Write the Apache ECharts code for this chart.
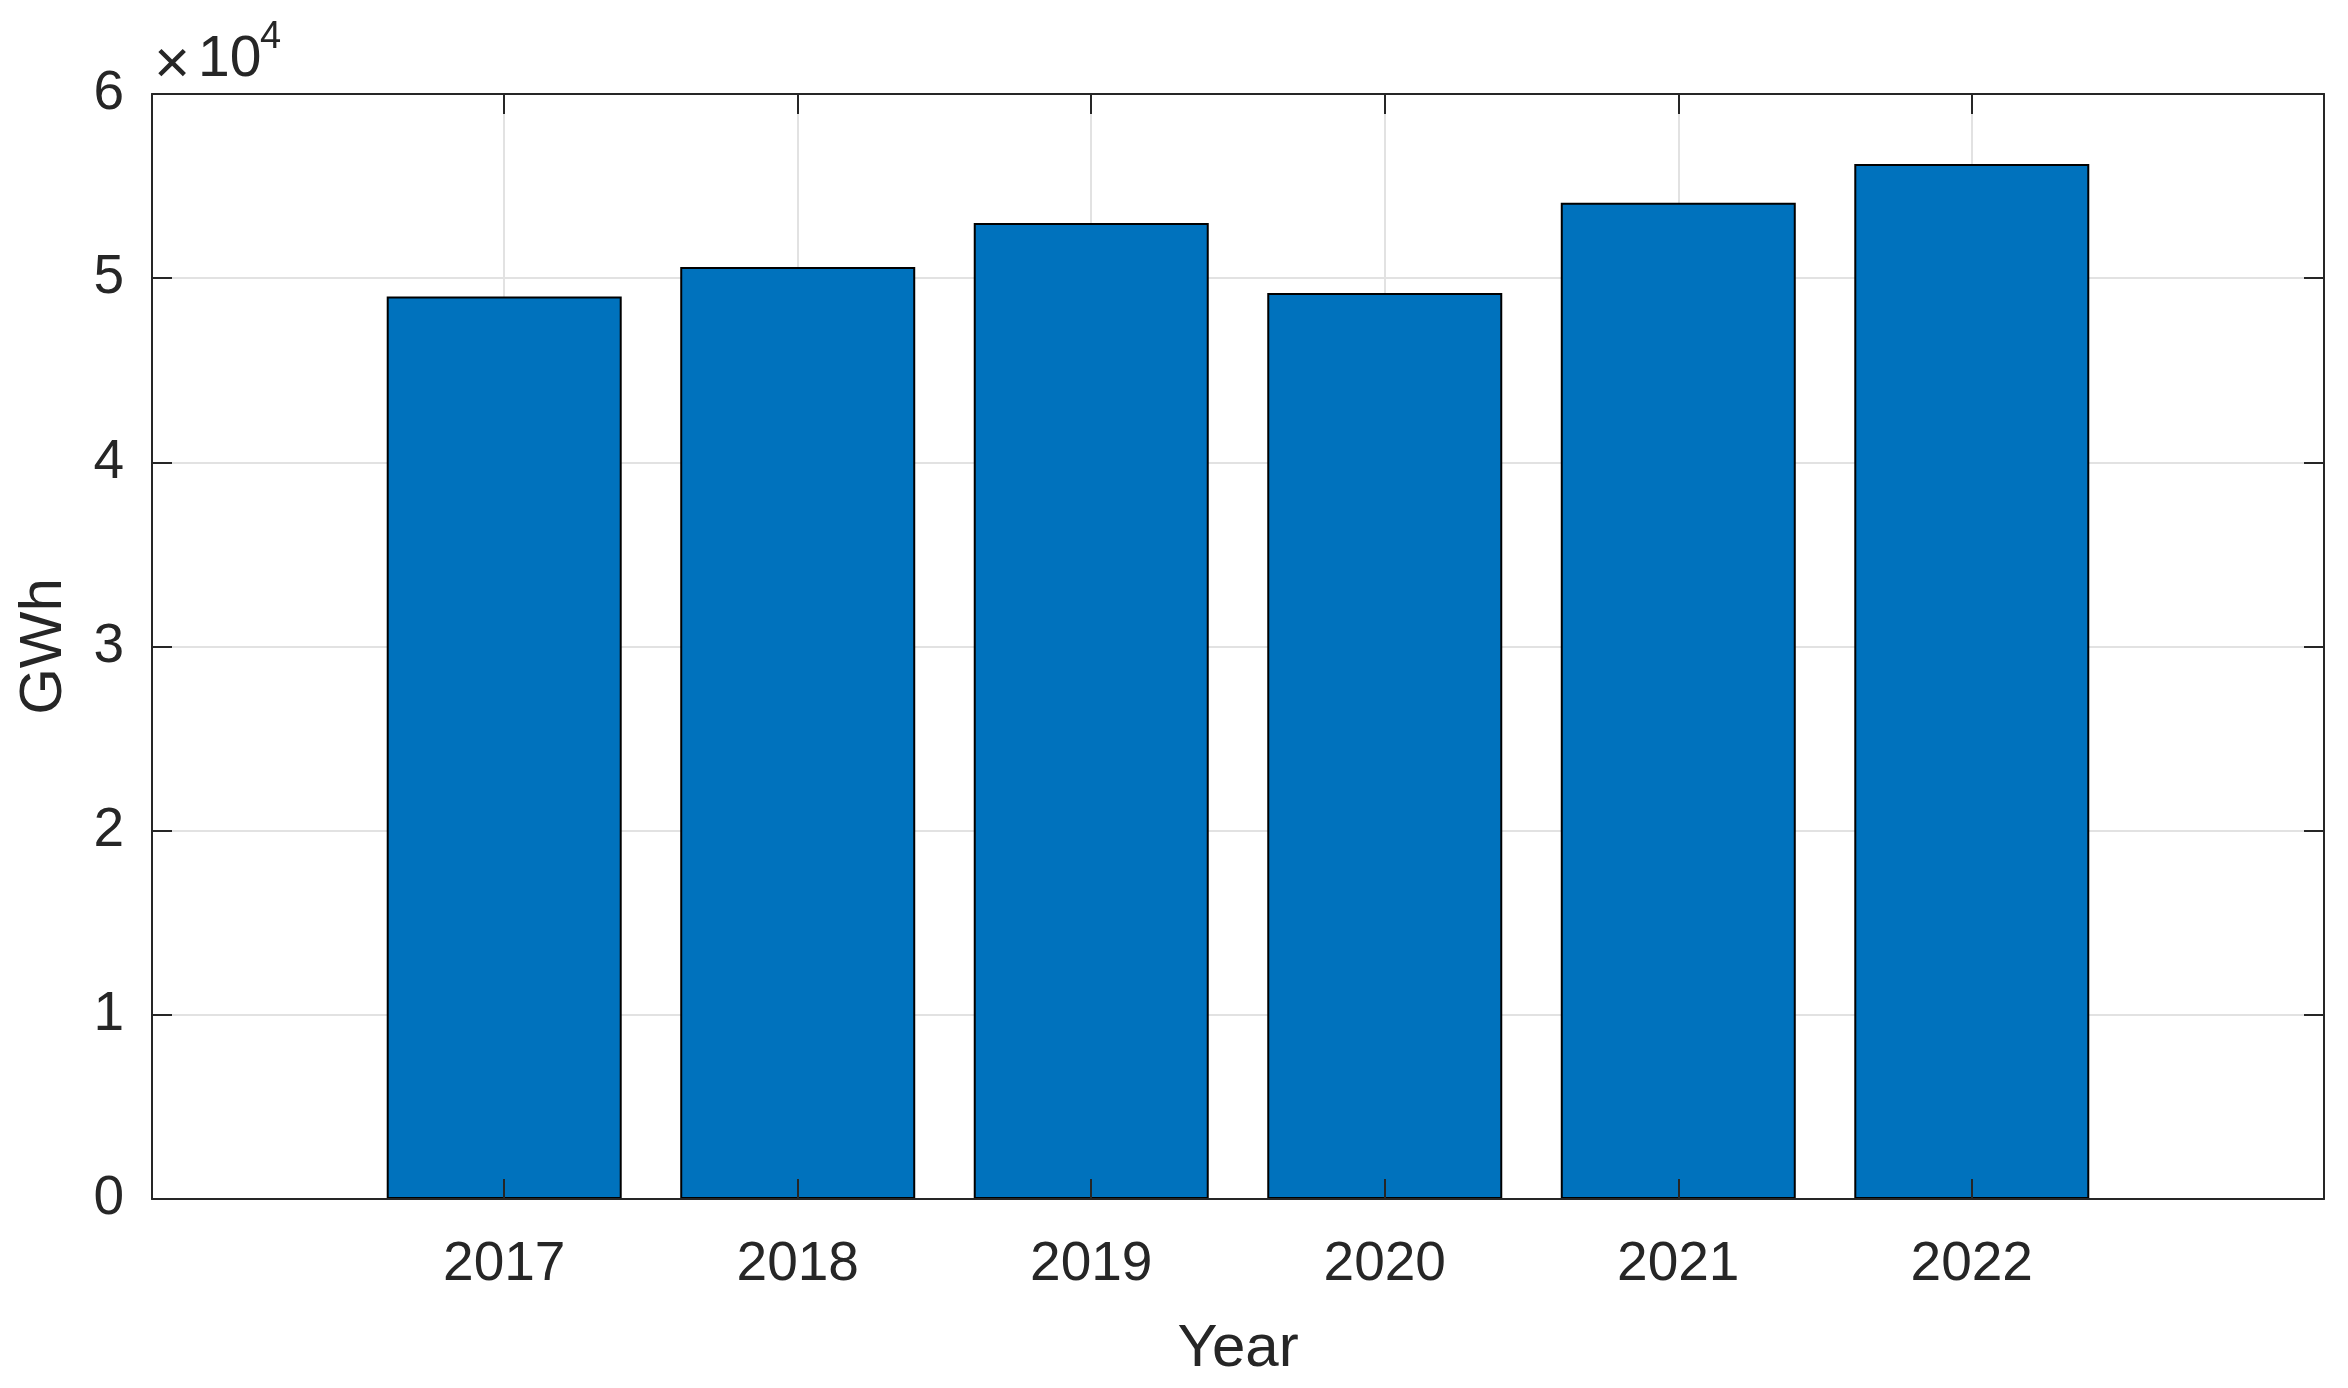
<!DOCTYPE html>
<html>
<head>
<meta charset="utf-8">
<script src="https://cdn.jsdelivr.net/npm/echarts@6/dist/echarts.min.js"></script>
<style>
html,body{margin:0;padding:0;background:#fff;}
#chart{width:2348px;height:1388px;}
</style>
</head>
<body>
<div id="chart"></div>
<script>
const years = [2017, 2018, 2019, 2020, 2021, 2022];
const gwh = [49000, 50600, 53000, 49200, 54100, 56200];
const yTicks = [0, 1, 2, 3, 4, 5, 6];
const yScale = 10000;
const xLabel = 'Year';
const yLabel = 'GWh';

const FONT = '"Liberation Sans", Arial, Helvetica, sans-serif';
const INK = '#262626';
const GRID = {left: 152, top: 94, width: 2172, height: 1105};
const XMIN = 2015.8, XMAX = 2023.2;
const YMIN = yTicks[0] * yScale, YMAX = yTicks[yTicks.length - 1] * yScale;

const chart = echarts.init(document.getElementById('chart'), null, {renderer: 'canvas'});

const frameX = (pos) => ({
  type: 'value', gridIndex: 1, position: pos, min: XMIN, max: XMAX, z: 5,
  axisLine: {show: true, onZero: false, lineStyle: {color: INK, width: 2}},
  axisTick: {show: true, inside: true, length: 20, customValues: years, lineStyle: {color: INK, width: 2}},
  axisLabel: {show: false}, splitLine: {show: false}
});
const frameY = (pos) => ({
  type: 'value', gridIndex: 1, position: pos, min: YMIN, max: YMAX, interval: yScale, z: 5,
  axisLine: {show: true, onZero: false, lineStyle: {color: INK, width: 2}},
  axisTick: {show: true, inside: true, length: 20, lineStyle: {color: INK, width: 2}},
  axisLabel: {show: false}, splitLine: {show: false}
});

chart.setOption({
  animation: false,
  backgroundColor: '#fff',
  textStyle: {fontFamily: FONT},
  grid: [
    Object.assign({}, GRID, {containLabel: false}),
    Object.assign({}, GRID, {containLabel: false})
  ],
  xAxis: [
    {
      type: 'value', gridIndex: 0, position: 'bottom', min: XMIN, max: XMAX, z: 0,
      name: xLabel, nameLocation: 'middle', nameGap: 120,
      nameTextStyle: {fontSize: 60, color: INK, fontFamily: FONT},
      axisLine: {show: false},
      axisTick: {show: false, customValues: years},
      axisLabel: {show: true, customValues: years, fontSize: 55, color: INK, fontFamily: FONT, margin: 38,
        formatter: (v) => String(v)},
      splitLine: {show: true, lineStyle: {color: '#e2e2e2', width: 2}}
    },
    frameX('bottom'),
    frameX('top')
  ],
  yAxis: [
    {
      type: 'value', gridIndex: 0, position: 'left', min: YMIN, max: YMAX, interval: yScale, z: 0,
      name: yLabel, nameLocation: 'middle', nameGap: 78, nameRotate: 90,
      nameTextStyle: {fontSize: 60, color: INK, fontFamily: FONT},
      axisLine: {show: false}, axisTick: {show: false},
      axisLabel: {show: true, fontSize: 55, color: INK, fontFamily: FONT, margin: 28,
        formatter: (v) => String(Math.round(v / yScale))},
      splitLine: {show: true, lineStyle: {color: '#e2e2e2', width: 2}}
    },
    frameY('left'),
    frameY('right')
  ],
  series: [{
    type: 'bar',
    xAxisIndex: 0, yAxisIndex: 0,
    barWidth: 235,
    data: years.map((y, i) => [y, gwh[i]]),
    itemStyle: {color: '#0072BD', borderColor: '#000000', borderWidth: 2},
    emphasis: {disabled: true}
  }],
  graphic: [
    {type: 'text', x: 154, y: 66, z: 10, style: {text: '×', font: '62px ' + FONT, fill: INK, verticalAlign: 'middle'}},
    {type: 'text', x: 198, y: 60, z: 10, style: {text: '10', font: '57px ' + FONT, fill: INK, verticalAlign: 'middle'}},
    {type: 'text', x: 260, y: 38, z: 10, style: {text: '4', font: '38px ' + FONT, fill: INK, verticalAlign: 'middle'}}
  ]
});
</script>
</body>
</html>
